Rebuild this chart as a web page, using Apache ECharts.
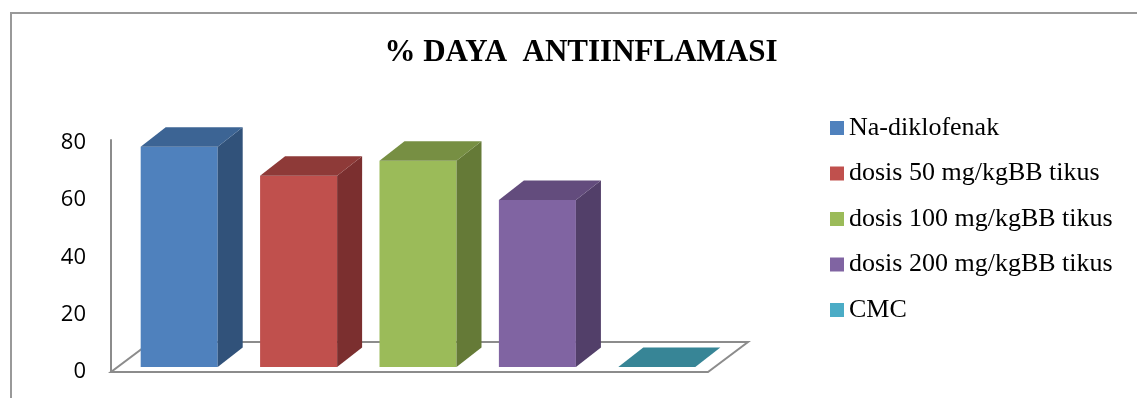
<!DOCTYPE html>
<html>
<head>
<meta charset="utf-8">
<script src="https://cdn.jsdelivr.net/npm/echarts@6/dist/echarts.min.js"></script>
<style>html,body{margin:0;padding:0;background:#fff;}#c{width:1137px;height:398px;}</style>
</head>
<body>
<div id="c"></div>
<script>
const titleText = '% DAYA  ANTIINFLAMASI';
const seriesNames = ['Na-diklofenak', 'dosis 50 mg/kgBB tikus', 'dosis 100 mg/kgBB tikus', 'dosis 200 mg/kgBB tikus', 'CMC'];
const seriesValues = [76.8, 66.7, 72.0, 58.3, 0];
const yTicks = [0, 20, 40, 60, 80];
const legendColors = ['#4F81BD', '#C0504D', '#9BBB59', '#8064A2', '#4BACC6'];
const sideColors = ['#31527A', '#7B2F2F', '#657A37', '#523F69', '#2E6F80'];
const topColors = ['#3C6494', '#8E3A38', '#778F43', '#634C7D', '#378596'];

const chart = echarts.init(document.getElementById('c'));

const OX = 8.5, OY = -5, DX = 25, DY = -19.5, FDX = 40, FDY = -30, BW = 0.645;

function barRender(idx) {
  return function (params, api) {
    const cat = api.value(0), val = api.value(1);
    const top = api.coord([cat, val]);
    const base = api.coord([cat, 0]);
    const band = api.size([1, 0])[0];
    const w = band * BW;
    const x0 = base[0] - w / 2 + OX, x1 = x0 + w;
    const yb = base[1] + OY, yt = top[1] + OY;
    const children = [];
    if (yb - yt > 0.5) {
      children.push({ type: 'rect', shape: { x: x0, y: yt, width: w, height: yb - yt }, style: { fill: legendColors[idx] } });
      children.push({ type: 'polygon', shape: { points: [[x1, yb], [x1, yt], [x1 + DX, yt + DY], [x1 + DX, yb + DY]] }, style: { fill: sideColors[idx] } });
    }
    children.push({ type: 'polygon', shape: { points: [[x0, yt], [x1, yt], [x1 + DX, yt + DY], [x0 + DX, yt + DY]] }, style: { fill: topColors[idx] } });
    return { type: 'group', children: children };
  };
}

function floorRender(params, api) {
  const band = api.size([1, 0])[0];
  const a = api.coord([0, 0]);
  const b = api.coord([seriesNames.length - 1, 0]);
  const xl = a[0] - band / 2, xr = b[0] + band / 2, y = a[1];
  const topY = api.coord([0, yTicks[yTicks.length - 1]])[1] - 3.5;
  return {
    type: 'group',
    children: [
      { type: 'polygon',
        shape: { points: [[xl, y], [xr, y], [xr + FDX, y + FDY], [xl + FDX, y + FDY]] },
        style: { fill: '#fff', stroke: '#8c8c8c', lineWidth: 2 } },
      { type: 'line', shape: { x1: xl, y1: y, x2: xl, y2: topY },
        style: { stroke: '#8c8c8c', lineWidth: 2 } }
    ]
  };
}

const series = [{
  type: 'custom', name: 'floor', renderItem: floorRender, data: [[0, 0]], silent: true, z: 1
}];
seriesNames.forEach(function (n, i) {
  series.push({
    type: 'custom', name: n, renderItem: barRender(i),
    itemStyle: { color: legendColors[i] },
    data: [[i, seriesValues[i]]], z: 2 + i
  });
});

chart.setOption({
  animation: false,
  backgroundColor: '#fff',
  graphic: [{
    type: 'rect', left: 10, top: 12, shape: { x: 0, y: 0, width: 1200, height: 500 },
    style: { fill: 'transparent', stroke: '#999', lineWidth: 2 }, z: -1
  }],
  title: {
    text: titleText, left: 576, top: 32, textAlign: 'center',
    textStyle: { fontFamily: 'Liberation Serif', fontWeight: 'bold', fontSize: 31, color: '#000' }
  },
  legend: {
    data: seriesNames, orient: 'vertical', left: 825, top: 110,
    icon: 'rect', itemWidth: 14, itemHeight: 14, itemGap: 19.5,
    textStyle: { fontFamily: 'Liberation Serif', fontSize: 26, color: '#000', lineHeight: 26 }
  },
  grid: { left: 111, right: 429, top: 142.7, bottom: 26, containLabel: false },
  xAxis: {
    type: 'category', data: seriesNames,
    axisLine: { show: false }, axisTick: { show: false }, axisLabel: { show: false }, splitLine: { show: false }
  },
  yAxis: {
    type: 'value', min: yTicks[0], max: yTicks[yTicks.length - 1], interval: 20,
    axisLine: { show: false },
    axisTick: { show: false }, splitLine: { show: false },
    axisLabel: { margin: 25, fontFamily: 'Open Sans', fontSize: 22, color: '#000', padding: [5, 0, 0, 0] }
  },
  series: series
});
</script>
</body>
</html>
